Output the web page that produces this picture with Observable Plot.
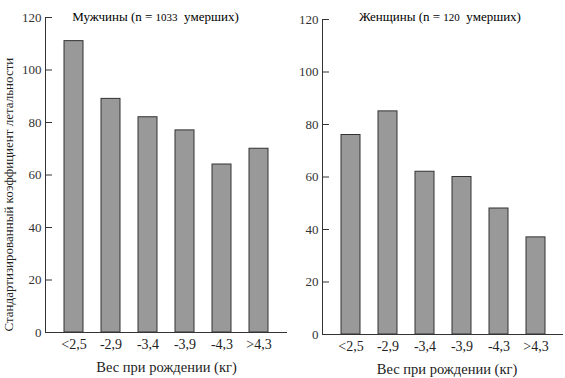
<!DOCTYPE html>
<html><head><meta charset="utf-8">
<script src="https://cdn.jsdelivr.net/npm/d3@7"></script>
<script src="https://cdn.jsdelivr.net/npm/@observablehq/plot@0.6"></script>
<style>
body{margin:0;background:#fff;}
#wrap{display:flex;width:565px;height:378px;}
#wrap svg, #wrap svg text{font-family:"Liberation Serif", "DejaVu Serif", serif !important;}
</style></head><body><div id="wrap"></div>
<script>
const categories = ["<2,5","-2,9","-3,4","-3,9","-4,3",">4,3"];
const male = [111, 89, 82, 77, 64, 70];
const female = [76, 85, 62, 60, 48, 37];
const yTicks = [0, 20, 40, 60, 80, 100, 120];
const xLabel = "Вес при рождении (кг)";
const yLabel = "Стандартизированный коэффициент летальности";
const maleTitle = ["Мужчины (n = ", "1033", "  умерших)"];
const femaleTitle = ["Женщины (n = ", "120", "  умерших)"];

function panel({values, title, width, marginLeft, marginRight, marginTop, marginBottom, titleDx, titleDy, labelDx, showYLabel}) {
  const frameW = width - marginLeft - marginRight;
  const data = categories.map((c, i) => ({c, v: values[i]}));
  const marks = [
    Plot.barY(data, {x: "c", y: "v", fill: "#999", stroke: "#333", strokeWidth: 1}),
    Plot.frame({anchor: "left", stroke: "#333"}),
    Plot.ruleY([0], {stroke: "#333"}),
    Plot.tickY(yTicks, {y: d => d, insetRight: frameW - 7, stroke: "#333"}),
    Plot.axisY(yTicks, {tickSize: 0, tickPadding: 4, label: null, fill: "#333", fontSize: 13}),
    Plot.axisX({tickSize: 0, tickPadding: 7, label: null, fill: "#222", fontSize: 14}),
    Plot.text([xLabel], {frameAnchor: "bottom", dy: 35, dx: labelDx, lineAnchor: "middle", fill: "#222", fontSize: 14.5}),
    Plot.text([title.join("")], {frameAnchor: "top", dy: titleDy, dx: titleDx, lineAnchor: "middle", fill: "#000", fontSize: 13, className: "ttl"})
  ];
  if (showYLabel) {
    marks.push(Plot.text([yLabel], {frameAnchor: "bottom-left", rotate: -90, textAnchor: "start", lineAnchor: "middle", dx: -37, dy: -1, fill: "#222", fontSize: 13}));
  }
  const svg = Plot.plot({
    width, height: 378, marginLeft, marginRight, marginTop, marginBottom,
    style: {fontFamily: "Liberation Serif, serif", fontSize: "13px", background: "white", color: "#333"},
    x: {domain: categories, paddingInner: 0.5, paddingOuter: 0.47, label: null, axis: null},
    y: {domain: [0, 120], label: null, axis: null},
    marks
  });
  const t = svg.querySelector("g.ttl text");
  if (t) {
    t.textContent = "";
    t.setAttribute("xml:space", "preserve");
    title.forEach((s, i) => {
      const ts = document.createElementNS("http://www.w3.org/2000/svg", "tspan");
      ts.textContent = s;
      if (i === 1) ts.setAttribute("font-size", "11");
      t.appendChild(ts);
    });
  }
  return svg;
}

const wrap = document.getElementById("wrap");
wrap.appendChild(panel({values: male, title: maleTitle, width: 290, marginLeft: 45, marginRight: 3, marginTop: 17, marginBottom: 46, titleDx: -11, titleDy: -1, labelDx: 0, showYLabel: true}));
wrap.appendChild(panel({values: female, title: femaleTitle, width: 275, marginLeft: 32, marginRight: 2, marginTop: 19, marginBottom: 44, titleDx: -3, titleDy: -3, labelDx: 4, showYLabel: false}));
</script></body></html>
